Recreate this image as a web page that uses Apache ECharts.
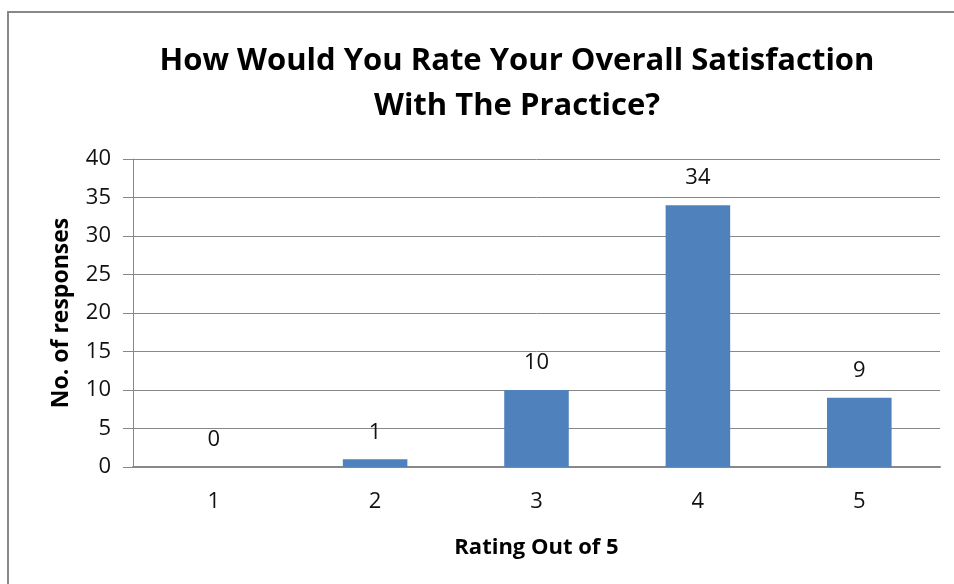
<!DOCTYPE html>
<html><head><meta charset="utf-8">
<script src="https://cdn.jsdelivr.net/npm/echarts@6/dist/echarts.min.js"></script>
<style>html,body{margin:0;padding:0;background:#fff}#c{width:954px;height:584px}</style>
</head><body><div id="c"></div>
<script>
const categories = ['1','2','3','4','5'];
const responses = [0, 1, 10, 34, 9];
const titleText = 'How Would You Rate Your Overall Satisfaction\nWith The Practice?';
const xName = 'Rating Out of 5';
const yName = 'No. of responses';

const chart = echarts.init(document.getElementById('c'), null, {renderer:'canvas'});
const font = '"Open Sans", Lato, sans-serif';
chart.setOption({
  animation:false,
  backgroundColor:'#fff',
  graphic:[{type:'rect', shape:{x:8, y:12, width:950, height:600}, style:{fill:'none', stroke:'#888', lineWidth:2}, silent:true}],
  title:{text:titleText, left:512, top:34, textAlign:'center',
    textStyle:{fontFamily:font, fontWeight:'bold', fontSize:31, lineHeight:45, color:'#000'}},
  grid:{left:133, right:14, top:159, bottom:117, containLabel:false},
  xAxis:{type:'category', data:categories, name:xName, nameLocation:'middle', nameGap:70,
    nameTextStyle:{fontFamily:font, fontWeight:'bold', fontSize:22, color:'#000'},
    axisLine:{lineStyle:{color:'#888', width:2}}, axisTick:{show:false},
    axisLabel:{fontFamily:font, fontSize:22, color:'#111', margin:24}},
  yAxis:{type:'value', min:0, max:40, interval:5, name:yName, nameLocation:'middle', nameGap:60,
    nameTextStyle:{fontFamily:font, fontWeight:'bold', fontSize:23, color:'#000'},
    axisLine:{show:true, lineStyle:{color:'#888', width:1}},
    axisTick:{show:true, length:10, lineStyle:{color:'#888'}},
    axisLabel:{fontFamily:font, fontSize:22, color:'#111', margin:22},
    splitLine:{lineStyle:{color:'#888', width:1}}},
  series:[{type:'bar', data:responses, barWidth:'40%', itemStyle:{color:'#4F81BD'},
    label:{show:true, position:'top', distance:16, fontFamily:font, fontSize:22, color:'#111'}}]
});
</script></body></html>
